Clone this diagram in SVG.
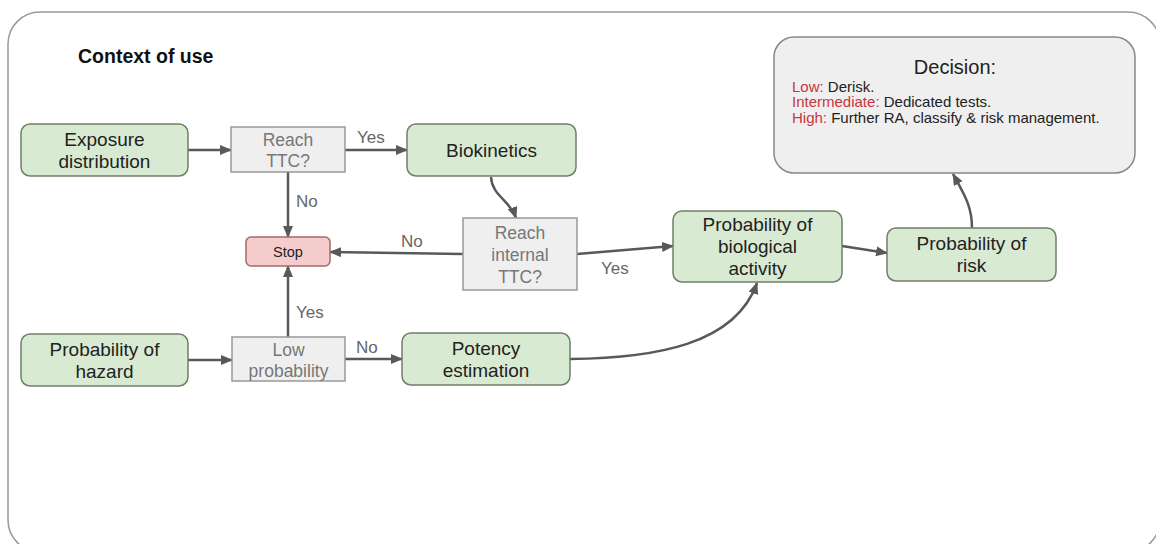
<svg xmlns="http://www.w3.org/2000/svg" width="1156" height="544" viewBox="0 0 1156 544">
<defs>
<style>
.t{font-family:"Liberation Sans",Arial,sans-serif;}
.g rect{fill:#d9ead3;stroke:#6f7f69;stroke-width:1.5;}
.q rect{fill:#efefef;stroke:#999;stroke-width:1.5;}
.gt{font-size:19px;fill:#222;text-anchor:middle;}
.qt{font-size:17.5px;fill:#777;text-anchor:middle;}
.lb{font-size:17px;fill:#666;}
.c path,.c line{stroke:#595959;stroke-width:2.5;fill:none;marker-end:url(#ah);}
.red{fill:#c8363f;}
</style>
<marker id="ah" viewBox="0 0 12 10" refX="11" refY="5" markerWidth="12" markerHeight="10" markerUnits="userSpaceOnUse" orient="auto">
<path d="M0,0 L12,5 L0,10 Z" fill="#595959"/>
</marker>
</defs>
<rect x="0" y="0" width="1156" height="544" fill="#fff"/>
<rect x="8" y="12" width="1152" height="540" rx="32" fill="#fff" stroke="#999" stroke-width="1.5"/>
<text class="t" x="78" y="63" font-size="19.5" font-weight="bold" fill="#111">Context of use</text>

<g class="c">
<line x1="188" y1="150" x2="231" y2="150"/>
<line x1="345" y1="150" x2="407" y2="150"/>
<line x1="288" y1="172" x2="288" y2="237"/>
<path d="M491,177 C492,196 510,200 516,218"/>
<path d="M463,254 L330,252"/>
<path d="M577,254 L673,246"/>
<line x1="188" y1="360" x2="232" y2="360"/>
<line x1="288" y1="337" x2="288" y2="266"/>
<line x1="345" y1="359" x2="402" y2="359"/>
<path d="M570,359 C655,358 735,345 757,283"/>
<path d="M842,246 L887,253"/>
<path d="M972,228 C972,206 964,194 953,174"/>
</g>
<g class="t lb">
<text x="357" y="143">Yes</text>
<text x="296" y="207">No</text>
<text x="401" y="247">No</text>
<text x="601" y="274">Yes</text>
<text x="296" y="318">Yes</text>
<text x="356" y="353">No</text>
</g>

<g id="exposure" class="g"><rect x="21" y="124" width="167" height="52" rx="9"/>
<text class="t gt" x="104.5" y="146">Exposure</text><text class="t gt" x="104.5" y="168">distribution</text></g>
<g id="reach-ttc" class="q"><rect x="231" y="127" width="114" height="45"/>
<text class="t qt" x="288" y="146">Reach</text><text class="t qt" x="288" y="167">TTC?</text></g>
<g id="biokinetics" class="g"><rect x="407" y="124" width="169" height="52" rx="9"/>
<text class="t gt" x="491.5" y="157">Biokinetics</text></g>
<g id="stop"><rect x="246" y="237" width="84" height="29" rx="5" fill="#f4cccc" stroke="#a36a6a" stroke-width="1.5"/>
<text class="t" x="288" y="257" font-size="14.5" fill="#222" text-anchor="middle">Stop</text></g>
<g id="reach-internal" class="q"><rect x="463" y="218" width="114" height="72"/>
<text class="t qt" x="520" y="239">Reach</text><text class="t qt" x="520" y="261">internal</text><text class="t qt" x="520" y="283">TTC?</text></g>
<g id="prob-hazard" class="g"><rect x="21" y="334" width="167" height="52" rx="9"/>
<text class="t gt" x="104.5" y="356">Probability of</text><text class="t gt" x="104.5" y="378">hazard</text></g>
<g id="low-prob" class="q"><rect x="232" y="337" width="113" height="44"/>
<text class="t qt" x="288.5" y="356" font-size="16.5">Low</text><text class="t qt" x="288.5" y="377" font-size="16.5">probability</text></g>
<g id="potency" class="g"><rect x="402" y="333" width="168" height="52" rx="9"/>
<text class="t gt" x="486" y="355">Potency</text><text class="t gt" x="486" y="377">estimation</text></g>
<g id="prob-bio" class="g"><rect x="673" y="211" width="169" height="71" rx="9"/>
<text class="t gt" x="757.5" y="231">Probability of</text><text class="t gt" x="757.5" y="253">biological</text><text class="t gt" x="757.5" y="275">activity</text></g>
<g id="prob-risk" class="g"><rect x="887" y="228" width="169" height="53" rx="9"/>
<text class="t gt" x="971.5" y="250">Probability of</text><text class="t gt" x="971.5" y="272">risk</text></g>
<g id="decision"><rect x="774" y="37" width="361" height="136" rx="20" fill="#efefef" stroke="#888" stroke-width="1.5"/>
<text class="t" x="955" y="74" font-size="20" fill="#222" text-anchor="middle">Decision:</text>
<text class="t" x="792" y="92" font-size="15" fill="#222"><tspan class="red">Low:</tspan> Derisk.</text>
<text class="t" x="792" y="107" font-size="15" fill="#222"><tspan class="red">Intermediate:</tspan> Dedicated tests.</text>
<text class="t" x="792" y="123" font-size="15" fill="#222"><tspan class="red">High:</tspan> Further RA, classify &amp; risk management.</text>
</g>
</svg>
